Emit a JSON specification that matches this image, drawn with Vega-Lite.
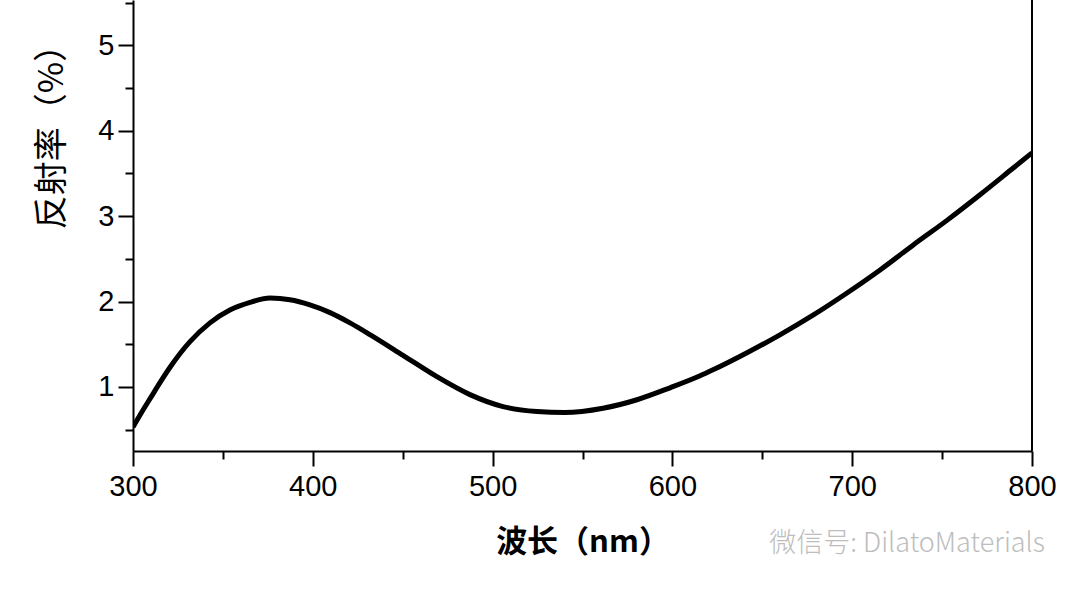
{
  "$schema": "https://vega.github.io/schema/vega-lite/v6.json",
  "width": 899,
  "height": 451,
  "autosize": {"type": "none"},
  "padding": {"left": 133, "top": 0, "right": 48, "bottom": 139},
  "background": "white",
  "config": {"view": {"stroke": null}},
  "title": {
    "text": "微信号: DilatoMaterials",
    "orient": "bottom",
    "anchor": "end",
    "frame": "group",
    "font": "Noto Sans CJK SC",
    "fontSize": 27,
    "fontWeight": 300,
    "color": "#bdbdbd",
    "baseline": "middle",
    "dx": 13,
    "dy": -17
  },
  "data": {
    "values": [
      {"wl": 300, "r": 0.53},
      {"wl": 305, "r": 0.71},
      {"wl": 310, "r": 0.88},
      {"wl": 315, "r": 1.05},
      {"wl": 320.6, "r": 1.23},
      {"wl": 331.7, "r": 1.53},
      {"wl": 342.8, "r": 1.75},
      {"wl": 353.9, "r": 1.9},
      {"wl": 365.1, "r": 1.99},
      {"wl": 376.2, "r": 2.04},
      {"wl": 387.3, "r": 2.02},
      {"wl": 398.4, "r": 1.96},
      {"wl": 409.6, "r": 1.87},
      {"wl": 420.7, "r": 1.75},
      {"wl": 432, "r": 1.61},
      {"wl": 450.2, "r": 1.37},
      {"wl": 469, "r": 1.12},
      {"wl": 487.4, "r": 0.91},
      {"wl": 505.8, "r": 0.77},
      {"wl": 524.7, "r": 0.712},
      {"wl": 540, "r": 0.7},
      {"wl": 561.4, "r": 0.75},
      {"wl": 580.3, "r": 0.85},
      {"wl": 598.7, "r": 0.99},
      {"wl": 615.4, "r": 1.13},
      {"wl": 622.6, "r": 1.2},
      {"wl": 641.5, "r": 1.4},
      {"wl": 659.8, "r": 1.61},
      {"wl": 678.2, "r": 1.84},
      {"wl": 697.1, "r": 2.1},
      {"wl": 715.5, "r": 2.37},
      {"wl": 733.8, "r": 2.66},
      {"wl": 752.7, "r": 2.95},
      {"wl": 771.1, "r": 3.25},
      {"wl": 789.4, "r": 3.56},
      {"wl": 800, "r": 3.74}
    ]
  },
  "layer": [
    {
      "mark": {"type": "line", "color": "black", "strokeWidth": 5, "interpolate": "monotone", "clip": true},
      "encoding": {
        "x": {
          "field": "wl",
          "type": "quantitative",
          "scale": {"domain": [300, 800], "nice": false, "zero": false},
          "axis": {
            "values": [300, 350, 400, 450, 500, 550, 600, 650, 700, 750, 800],
            "labelExpr": "datum.value % 100 === 0 ? datum.label : ''",
            "tickSize": {"condition": {"test": "datum.value % 100 === 0", "value": 15}, "value": 8},
            "tickWidth": 2,
            "tickColor": "black",
            "domainColor": "black",
            "domainWidth": 2,
            "grid": false,
            "labelFont": "Liberation Sans",
            "labelFontSize": 29,
            "labelColor": "black",
            "labelPadding": 6,
            "labelFlush": false,
            "labelOverlap": false,
            "title": "波长（nm）",
            "titleFont": "Noto Sans CJK SC",
            "titleFontSize": 31,
            "titleFontWeight": "bold",
            "titleColor": "black",
            "titleBaseline": "middle",
            "titleY": 91
          }
        },
        "y": {
          "field": "r",
          "type": "quantitative",
          "scale": {"domain": [0.25, 5.53], "nice": false, "zero": false},
          "axis": {
            "values": [0.5, 1, 1.5, 2, 2.5, 3, 3.5, 4, 4.5, 5, 5.5],
            "labelExpr": "datum.value % 1 === 0 ? format(datum.value, 'd') : ''",
            "tickSize": {"condition": {"test": "datum.value % 1 === 0", "value": 15}, "value": 8},
            "tickWidth": 2,
            "tickColor": "black",
            "domainColor": "black",
            "domainWidth": 2,
            "grid": false,
            "labelFont": "Liberation Sans",
            "labelFontSize": 29,
            "labelColor": "black",
            "labelPadding": 4,
            "labelFlush": false,
            "labelOverlap": false,
            "title": "反射率（%）",
            "titleFont": "Noto Sans CJK SC",
            "titleFontSize": 34,
            "titleFontWeight": "normal",
            "titleColor": "black",
            "titleAngle": -90,
            "titleAlign": "center",
            "titleBaseline": "middle",
            "titleX": -81,
            "titleY": 128
          }
        }
      }
    },
    {
      "mark": {"type": "rule", "color": "black", "strokeWidth": 2},
      "encoding": {"x": {"datum": 800}}
    }
  ]
}
